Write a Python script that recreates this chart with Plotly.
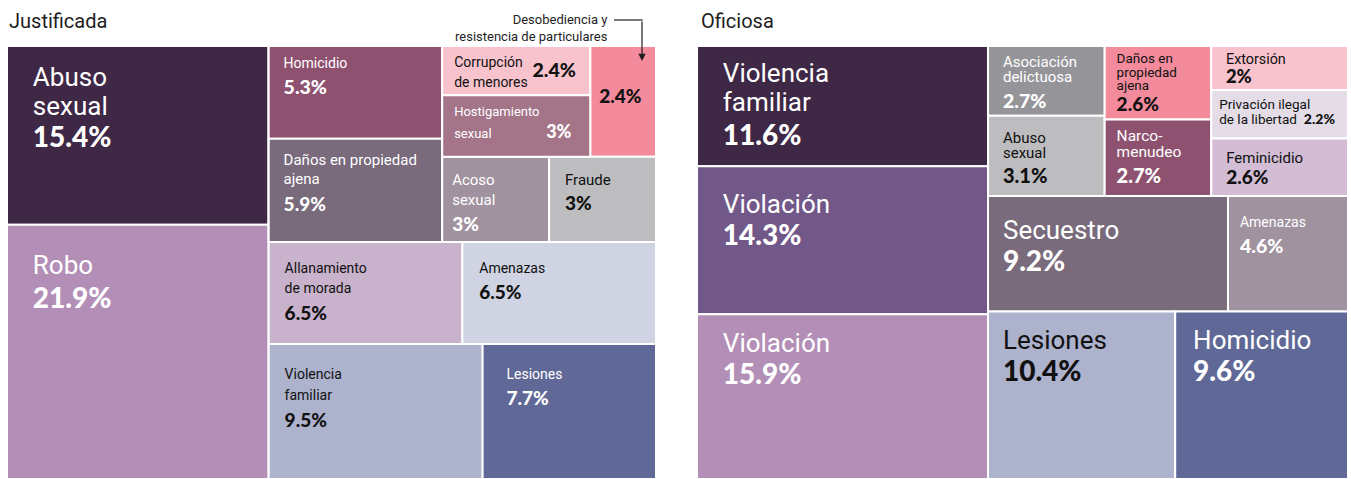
import plotly.graph_objects as go

W, H = 1351, 479

# ---------------- data: Justificada ----------------
j_labels = ["Abuso sexual", "Robo", "Homicidio", "Daños en propiedad ajena",
            "Corrupción de menores", "Hostigamiento sexual",
            "Desobediencia y resistencia de particulares", "Acoso sexual", "Fraude",
            "Allanamiento de morada", "Amenazas", "Violencia familiar", "Lesiones"]
j_values = [15.4, 21.9, 5.3, 5.9, 2.4, 3.0, 2.4, 3.0, 3.0, 6.5, 6.5, 9.5, 7.7]
j_pct = ["15.4%", "21.9%", "5.3%", "5.9%", "2.4%", "3%", "2.4%", "3%", "3%",
         "6.5%", "6.5%", "9.5%", "7.7%"]
j_display = ["Abuso\nsexual", "Robo", "Homicidio", "Daños en propiedad\najena",
             "Corrupción\nde menores", "Hostigamiento\nsexual", "", "Acoso\nsexual", "Fraude",
             "Allanamiento\nde morada", "Amenazas", "Violencia\nfamiliar", "Lesiones"]
# layout groups (columns / rows of the treemap)
j_group_ids = ["J1", "J2", "J2a", "J2a1", "J2a2", "J2a2a", "J2a2a1", "J2a2b", "J2b", "J2c"]
j_group_parents = ["", "", "J2", "J2a", "J2a", "J2a2", "J2a2a", "J2a2", "J2", "J2"]
j_parents = ["J1", "J1", "J2a1", "J2a1", "J2a2a1", "J2a2a1", "J2a2a", "J2a2b", "J2a2b",
             "J2b", "J2b", "J2c", "J2c"]

# ---------------- data: Oficiosa ----------------
o_labels = ["Violencia familiar", "Violación", "Violación", "Asociación delictuosa",
            "Abuso sexual", "Daños en propiedad ajena", "Narcomenudeo", "Extorsión",
            "Privación ilegal de la libertad", "Feminicidio", "Secuestro", "Amenazas",
            "Lesiones", "Homicidio"]
o_values = [11.6, 14.3, 15.9, 2.7, 3.1, 2.6, 2.7, 2.0, 2.2, 2.6, 9.2, 4.6, 10.4, 9.6]
o_pct = ["11.6%", "14.3%", "15.9%", "2.7%", "3.1%", "2.6%", "2.7%", "2%", "2.2%",
         "2.6%", "9.2%", "4.6%", "10.4%", "9.6%"]
o_display = ["Violencia\nfamiliar", "Violación", "Violación", "Asociación\ndelictuosa",
             "Abuso\nsexual", "Daños en\npropiedad\najena", "Narco-\nmenudeo", "Extorsión",
             "Privación ilegal\nde la libertad", "Feminicidio", "Secuestro", "Amenazas",
             "Lesiones", "Homicidio"]
o_group_ids = ["O1", "O2", "O2a", "O2a1", "O2a2", "O2a3", "O2b", "O2c"]
o_group_parents = ["", "", "O2", "O2a", "O2a", "O2a", "O2", "O2"]
o_parents = ["O1", "O1", "O1", "O2a1", "O2a1", "O2a2", "O2a2", "O2a3", "O2a3", "O2a3",
             "O2b", "O2b", "O2c", "O2c"]

# ---------------- styles ----------------
j_colors = ["#3f2846", "#b38fb7", "#8e5270", "#796a7c", "#f8c3cc", "#a47488", "#f38b9d",
            "#a1929f", "#bdbdbf", "#c9b2cc", "#cfd3e2", "#adb2cd", "#5f6896"]
j_dark = [0, 0, 0, 0, 1, 0, 1, 0, 1, 1, 1, 1, 0]
o_colors = ["#3f2846", "#725889", "#b38fb7", "#959599", "#bdbdbf", "#f38b9d", "#8e5270",
            "#f8c3cc", "#e4dde8", "#d2bdd5", "#796a7c", "#a1929f", "#adb2cd", "#5f6896"]
o_dark = [0, 0, 0, 0, 1, 1, 0, 1, 1, 1, 0, 0, 1, 0]

# text layout per cell: indent, and lines (baseline offset from cell top, segments[, indent])
j_spec = [
    dict(ind=23, lines=[(40, [("L", 0, 26)]), (68, [("L", 1, 26)]), (101, [("P", 28)])]),
    dict(ind=23, lines=[(49.5, [("L", 0, 26)]), (83, [("P", 28)])]),
    dict(ind=12, lines=[(21.3, [("L", 0, 14)]), (47.3, [("P", 19.5)])]),
    dict(ind=12, lines=[(25.7, [("L", 0, 15)]), (45.7, [("L", 1, 15)]), (72.3, [("P", 19)])]),
    dict(ind=9, lines=[(21, [("L", 0, 14)]), (31, [("P", 19.5)], 87), (41, [("L", 1, 14)])]),
    dict(ind=9, lines=[(21, [("L", 0, 13)]), (42, [("L", 1, 13), ("G", 54), ("P", 18)])]),
    dict(ind=6, lines=[(57, [("P", 19)])]),
    dict(ind=7, lines=[(27.7, [("L", 0, 15)]), (47.7, [("L", 1, 15)]), (73.3, [("P", 19)])]),
    dict(ind=13, lines=[(27.7, [("L", 0, 15)]), (52.7, [("P", 19)])]),
    dict(ind=13, lines=[(30.7, [("L", 0, 14)]), (50.7, [("L", 1, 14)]), (77.3, [("P", 19)])]),
    dict(ind=14, lines=[(30.7, [("L", 0, 14)]), (57.3, [("P", 19)])]),
    dict(ind=13, lines=[(34.3, [("L", 0, 14)]), (56, [("L", 1, 14)]), (82.7, [("P", 19)])]),
    dict(ind=21, lines=[(34.3, [("L", 0, 14)]), (61, [("P", 19)])]),
]
o_spec = [
    dict(ind=23, lines=[(36.5, [("L", 0, 26)]), (64.5, [("L", 1, 26)]), (98, [("P", 28)])]),
    dict(ind=23, lines=[(46, [("L", 0, 26)]), (79, [("P", 28)])]),
    dict(ind=23, lines=[(37, [("L", 0, 26)]), (70.5, [("P", 28)])]),
    dict(ind=12, lines=[(20.3, [("L", 0, 15)]), (36.3, [("L", 1, 15)]), (62.3, [("P", 19.5)])]),
    dict(ind=12, lines=[(27, [("L", 0, 15)]), (42, [("L", 1, 15)]), (67, [("P", 20)])]),
    dict(ind=9, lines=[(17, [("L", 0, 13.5)]), (30.5, [("L", 1, 13.5)]), (44, [("L", 2, 13.5)]),
                       (65, [("P", 19)])]),
    dict(ind=9, lines=[(21.3, [("L", 0, 15.5)]), (37.3, [("L", 1, 15.5)]), (63.7, [("P", 20)])]),
    dict(ind=12, lines=[(17.5, [("L", 0, 14.5)]), (38, [("P", 18.5)])]),
    dict(ind=5, lines=[(18.7, [("L", 0, 13.5)]), (34, [("L", 1, 13.5), ("G", 7), ("P", 14)])]),
    dict(ind=12, lines=[(24.7, [("L", 0, 15)]), (45.7, [("P", 19)])]),
    dict(ind=12, lines=[(42.5, [("L", 0, 26)]), (75, [("P", 28)])]),
    dict(ind=9, lines=[(31, [("L", 0, 14)]), (56.7, [("P", 19.5)])]),
    dict(ind=12, lines=[(37, [("L", 0, 26)]), (70, [("P", 28)])]),
    dict(ind=15, lines=[(37, [("L", 0, 26)]), (70, [("P", 28)])]),
]

NBSP = "\u00a0"
BASE = 1.0            # base font size -> line step of 1.3 px
STEP = 1.3 * BASE
SPACER = 2.0          # font size of the invisible first line
TOP_PAD = 3.0
ASC = 0.928
NBW = 0.2476          # nbsp advance (em)


def pad(px):
    n = int(round(px / (NBW * 4)))
    return "<span style='font-size:4px'>" + NBSP * n + "</span>" if n > 0 else ""


def make_text(display, pct, spec):
    parts = display.split("\n")
    base0 = TOP_PAD + ASC * SPACER
    rows = {0: "<span style='font-size:%gpx'>%s</span>" % (SPACER, NBSP)}
    last = 0
    for line in spec["lines"]:
        rel, segs = line[0], line[1]
        ind = line[2] if len(line) > 2 else spec["ind"]
        k = max(last + 1, int(round((rel - base0) / STEP)))
        last = k
        s = pad(ind)
        for seg in segs:
            if seg[0] == "L":
                s += "<span style='font-size:%gpx'>%s</span>" % (seg[2], parts[seg[1]])
            elif seg[0] == "P":
                s += ("<span style='font-family:Lato;font-weight:900;font-size:%gpx'>%s</span>"
                      % (seg[1], pct))
            else:
                s += pad(seg[1])
        rows[k] = s
    return "<br>".join(rows.get(i, "") for i in range(last + 1))


def build(prefix, gids, gpar, labels, values, parents, pcts, display, colors, dark, spec, dom):
    n = len(labels)
    ids = gids + [prefix + "_" + str(i) for i in range(n)]
    lab = gids + labels
    par = gpar + parents
    val = [0] * len(gids) + values
    col = ["#ffffff"] * len(gids) + colors
    txt = [""] * len(gids) + [make_text(display[i], pcts[i], spec[i]) for i in range(n)]
    tcol = ["#ffffff"] * len(gids) + ["#111111" if d else "#ffffff" for d in dark]
    return go.Treemap(
        ids=ids, labels=lab, parents=par, values=val, branchvalues="remainder", sort=False,
        tiling=dict(packing="slice-dice", pad=0),
        marker=dict(colors=col, line=dict(color="#ffffff", width=2),
                    pad=dict(t=0, l=0, r=0, b=0), depthfade=False),
        text=txt, textinfo="text", textposition="top left",
        textfont=dict(family="Roboto", size=BASE, color=tcol),
        pathbar=dict(visible=False), hoverinfo="label+value",
        domain=dict(x=dom[0], y=dom[1]),
    )


def px_x(v):
    return v / W


def px_y(v):
    return 1 - v / H


fig = go.Figure()
fig.add_trace(build("J", j_group_ids, j_group_parents, j_labels, j_values, j_parents, j_pct,
                    j_display, j_colors, j_dark, j_spec,
                    ([px_x(7), px_x(656)], [px_y(479), px_y(46)])))
fig.add_trace(build("O", o_group_ids, o_group_parents, o_labels, o_values, o_parents, o_pct,
                    o_display, o_colors, o_dark, o_spec,
                    ([px_x(697), px_x(1348)], [px_y(479), px_y(46)])))

anns = [
    dict(text="Justificada", x=px_x(7), y=px_y(21), xanchor="left", yanchor="middle",
         font=dict(size=20, color="#1e1e1e", family="Roboto")),
    dict(text="Oficiosa", x=px_x(699), y=px_y(21), xanchor="left", yanchor="middle",
         font=dict(size=20, color="#1e1e1e", family="Roboto")),
    dict(text="Desobediencia y<br>resistencia de particulares", x=px_x(610), y=px_y(28),
         xanchor="right", yanchor="middle", align="right",
         font=dict(size=13, color="#1e1e1e", family="Roboto")),
    dict(text="", x=px_x(642), y=px_y(61), ax=0, ay=-41, showarrow=True, arrowhead=2,
         arrowsize=1.2, arrowwidth=1.2, arrowcolor="#1e1e1e", standoff=0),
]
for a in anns:
    a.setdefault("showarrow", False)
    a["xref"] = "paper"
    a["yref"] = "paper"
fig.update_layout(
    annotations=anns,
    shapes=[dict(type="line", xref="paper", yref="paper", x0=px_x(614), x1=px_x(642.6),
                 y0=px_y(20), y1=px_y(20), line=dict(color="#1e1e1e", width=1.2))],
    width=W, height=H, margin=dict(l=0, r=0, t=0, b=0),
    paper_bgcolor="#ffffff", font=dict(family="Roboto"),
    showlegend=False,
)
fig.write_html("out.html", config={"displayModeBar": False},
               post_script="document.body.style.margin='0';")
